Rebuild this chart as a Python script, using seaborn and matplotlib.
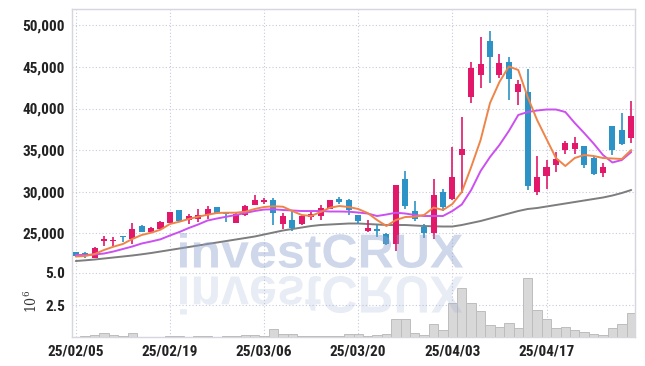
import numpy as np
import matplotlib.pyplot as plt
import seaborn as sns
import pandas as pd
from matplotlib.textpath import TextPath
from matplotlib.patches import PathPatch
from matplotlib.font_manager import FontProperties
from matplotlib.transforms import Affine2D

# ---- data (KRW, daily) ----
dates = ['25/02/05', '25/02/19', '25/03/06', '25/03/20', '25/04/03', '25/04/17']
tick_pos = [0, 10, 20, 30, 40, 50]

opens = [22750, 22600, 22050, 24050, 24100, 24650, 24320, 25880, 25200, 25550,
         26270, 27800, 26600, 26680, 27200, 28160, 27450, 26280, 27160, 28400,
         28750, 29000, 26150, 26600, 26120, 26920, 27080, 27920, 29080, 29000,
         27200, 25240, 25480, 24920, 23750, 31530, 27680, 25720, 25000, 29960,
         29090, 34410, 41420, 44060, 48110, 44060, 45590, 41950, 41980, 29960,
         31920, 33250, 35050, 35130, 35490, 34050, 32210, 37900, 37420, 36420]
highs = [22800, 22750, 23400, 24700, 24500, 24700, 26200, 26000, 25700, 26480,
         27600, 27850, 27280, 27880, 28250, 28200, 27500, 27600, 28350, 29640,
         29250, 29280, 27400, 27640, 27250, 27560, 28400, 29050, 29330, 29150,
         27250, 26600, 25960, 25000, 30850, 32450, 28850, 26080, 31490, 30320,
         35340, 38940, 45590, 48560, 49350, 46520, 46160, 43430, 44710, 34330,
         33810, 34810, 36060, 36540, 35500, 34200, 33410, 37950, 39420, 40900]
lows = [22250, 22000, 22000, 23450, 23500, 23900, 23680, 25150, 25150, 25500,
        26200, 26450, 26120, 26360, 26680, 27350, 26380, 26200, 27100, 28350,
        28500, 25960, 25550, 25280, 26000, 26600, 26600, 27900, 28520, 27200,
        26100, 25200, 24520, 23560, 22870, 27890, 26480, 24470, 24320, 27680,
        29050, 29880, 40630, 42430, 43030, 43630, 41020, 40420, 30200, 29600,
        30290, 32400, 34530, 34500, 32810, 32000, 31730, 34410, 35650, 35820]
closes = [22300, 22550, 23230, 24300, 24200, 24500, 25480, 25200, 25640, 26350,
          27560, 26510, 27080, 27160, 27920, 27400, 27350, 27280, 28280, 29000,
          29050, 27480, 27080, 25670, 27120, 27280, 28080, 29000, 28720, 27800,
          26500, 25640, 25240, 23720, 30800, 28320, 26680, 25000, 29600, 28200,
          31770, 35100, 44830, 45310, 46230, 45430, 43510, 42910, 30720, 31730,
          32970, 33890, 35820, 35820, 33210, 32160, 32970, 35050, 35770, 39100]

ma5 = [22211, 22271, 22512, 22993, 23389, 23714, 24315, 24796, 25072, 25433,
       26118, 26394, 26719, 26995, 27236, 27440, 27476, 27476, 27596, 27921,
       28161, 28245, 28197, 27680, 27200, 27080, 27560, 28077, 28281, 28161,
       27921, 27440, 26599, 25877, 26599, 26959, 26995, 27200, 28101, 27800,
       28522, 29964, 32969, 36215, 40662, 43187, 45050, 44629, 41384, 38619,
       36335, 34051, 33090, 34051, 34412, 34291, 34051, 33991, 33931, 35015]
ma20 = [22392, 22392, 22452, 22572, 22812, 23113, 23413, 23774, 24014, 24279,
        24736, 25156, 25637, 26058, 26539, 26779, 26995, 27200, 27440, 27680,
        27861, 27885, 27801, 27741, 27680, 27680, 27680, 27620, 27620, 27596,
        27500, 27380, 27080, 27260, 27476, 27380, 27200, 27080, 27080, 27080,
        27680, 28462, 30205, 32488, 34171, 35614, 37297, 39220, 39580, 39760,
        39881, 39881, 39580, 38258, 37056, 35794, 34412, 33510, 33811, 34773]
ma60 = [21670, 21755, 21851, 21971, 22091, 22211, 22332, 22476, 22632, 22812,
        22993, 23173, 23353, 23534, 23714, 23894, 24074, 24255, 24435, 24615,
        24856, 25096, 25337, 25517, 25697, 25877, 25998, 26058, 26118, 26178,
        26178, 26118, 26058, 25998, 25998, 25998, 25938, 25877, 25841, 25817,
        25817, 25998, 26238, 26478, 26779, 27080, 27380, 27680, 27921, 28041,
        28221, 28402, 28582, 28762, 28943, 29123, 29303, 29544, 29844, 30205]

volume = [0.05, 0.10, 0.21, 0.31, 0.16, 0.08, 0.31, 0.05, 0.05, 0.05,
          0.10, 0.13, 0.05, 0.13, 0.10, 0.05, 0.08, 0.13, 0.18, 0.16,
          0.10, 0.65, 0.23, 0.23, 0.13, 0.10, 0.10, 0.10, 0.08, 0.23,
          0.26, 0.13, 0.16, 0.23, 1.40, 1.40, 0.31, 0.17, 1.03, 0.57,
          2.64, 3.80, 2.64, 2.04, 0.93, 0.80, 1.11, 0.70, 4.58, 2.09,
          1.40, 0.72, 0.80, 0.54, 0.41, 0.23, 0.16, 0.70, 1.03, 1.86]  # millions

UP = '#e2186a'
DOWN = '#2d93c6'
GRID = '#c6c9dc'
SPINE = '#d6d6de'

sns.set_style('white')
plt.rcParams['font.family'] = ['Roboto Condensed', 'DejaVu Sans']
plt.rcParams['font.stretch'] = 'condensed'
plt.rcParams['mathtext.fontset'] = 'dejavuserif'

df = pd.DataFrame({'x': np.arange(len(opens)), 'open': opens, 'high': highs,
                   'low': lows, 'close': closes, 'ma5': ma5, 'ma20': ma20,
                   'ma60': ma60, 'vol': volume})
df['up'] = df['close'] >= df['open']
colors = np.where(df['up'], UP, DOWN)

W, H = 645, 366
fig = plt.figure(figsize=(W / 100, H / 100), dpi=100)
ax = fig.add_axes([72 / W, 1 - 270 / H, 563 / W, 261 / H])
axv = fig.add_axes([72 / W, 1 - 337.3 / H, 563 / W, 67.3 / H], sharex=ax)

# candles
ax.vlines(df['x'], df['low'], df['high'], color=colors, linewidth=1.2, zorder=3)
body_lo = np.minimum(df['open'], df['close'])
body_h = np.maximum(np.abs(df['close'] - df['open']), 90)
ax.bar(df['x'], body_h, bottom=body_lo, width=0.64, color=colors,
       linewidth=0, zorder=4)

# moving averages
sns.lineplot(data=df, x='x', y='ma60', ax=ax, color='#7d7d7d', linewidth=1.4, zorder=2)
sns.lineplot(data=df, x='x', y='ma20', ax=ax, color='#cc4ff0', linewidth=1.4, zorder=5)
sns.lineplot(data=df, x='x', y='ma5', ax=ax, color='#ef8449', linewidth=1.4, zorder=6)

# volume
axv.bar(df['x'], df['vol'], width=1.0, color='#d8d8d8', edgecolor='#bdbdbd',
        linewidth=0.7, zorder=3)

ax.set_xlim(-0.4, 59.4)
ax.set_ylim(20590, 51960)
axv.set_ylim(0, 5.22)

ax.set_yticks([25000, 30000, 35000, 40000, 45000, 50000])
ax.set_yticklabels([f'{v:,}' for v in [25000, 30000, 35000, 40000, 45000, 50000]])
axv.set_yticks([2.5, 5.0])
axv.set_yticklabels(['2.5', '5.0'])
axv.set_xticks(tick_pos)
axv.set_xticklabels(dates)
ax.tick_params(axis='x', labelbottom=False)

for a in (ax, axv):
    a.set_xlabel('')
    a.set_ylabel('')
    a.grid(True, color=GRID, linestyle=(0, (1, 2)), linewidth=0.8)
    a.set_axisbelow(True)
    a.tick_params(length=0, pad=5, labelsize=11, labelcolor='#222222')
    for lab in a.get_xticklabels() + a.get_yticklabels():
        lab.set_fontweight('bold')
    for s in a.spines.values():
        s.set_color(SPINE)
        s.set_linewidth(1.0)
ax.spines['bottom'].set_visible(False)
axv.spines['top'].set_visible(False)

fig.text(31 / W, 1 - 301 / H, r'$10^6$', rotation=90, fontsize=10,
         ha='center', va='center', color='#333333')

# watermark with mirrored reflection
fp = FontProperties(family=['Liberation Sans', 'DejaVu Sans'], weight='bold',
                    stretch='normal')
tp = TextPath((0, 0), 'investCRUX', size=50, prop=fp)
ext = tp.get_extents()
x0, x1 = 180, 463
sx = (x1 - x0) / ext.width
sy = 35 / ext.height
to_fig = Affine2D().scale(1 / W, 1 / H) + fig.transFigure
t_main = (Affine2D().translate(-ext.x0, -ext.y0).scale(sx, sy)
          .translate(x0, H - 268) + to_fig)
t_refl = (Affine2D().translate(-ext.x0, -ext.y0).scale(sx, -sy * 1.1)
          .translate(x0, H - 276) + to_fig)
fig.patches.append(PathPatch(tp, transform=t_main, facecolor='#8ea0cf',
                             edgecolor='none', alpha=0.42, zorder=10))
fig.patches.append(PathPatch(tp, transform=t_refl, facecolor='#8ea0cf',
                             edgecolor='none', alpha=0.2, zorder=10))

plt.savefig('out.png', dpi=100)
plt.close()
